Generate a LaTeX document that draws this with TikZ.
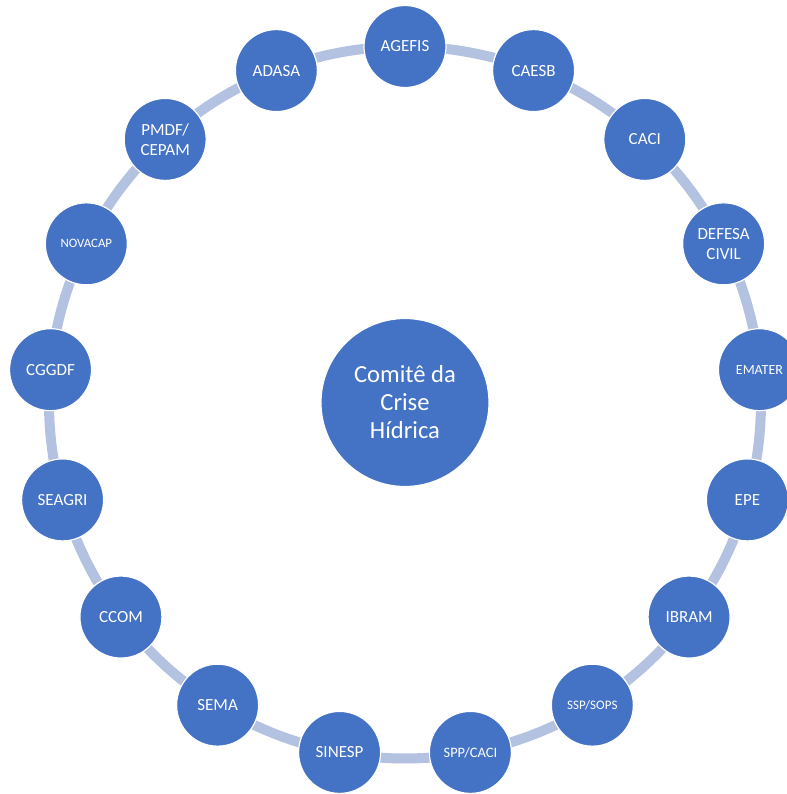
\documentclass[tikz,border=0pt]{standalone}
\usepackage{fontspec}
\setmainfont{Carlito}
\usepackage{xcolor}
\usepackage{tikz}
\usetikzlibrary{backgrounds}
\definecolor{nodeblue}{HTML}{4472C4}
\definecolor{ringblue}{HTML}{B4C2E1}

\begin{document}
\begin{tikzpicture}[
  x=0.5pt, y=0.5pt,
  hub/.style={circle, fill=nodeblue, draw=white, line width=0.6pt, minimum size=84pt, inner sep=0pt,
    text=white, align=center, font=\fontsize{12.3}{14}\selectfont},
  member/.style={circle, fill=nodeblue, draw=white, line width=0.6pt, minimum size=41pt, inner sep=0pt,
    text=white, align=center, font=\fontsize{8.5}{10}\selectfont},
  ring/.style={draw=ringblue, line width=5pt, bend left=10.6, looseness=0.86}
]
  \clip (-405,-391.5) rectangle (382,402.5);

  \node[hub] (comite) at (0,0) {Comitê da\\Crise\\Hídrica};

  \node[member] (agefis)  at (90:356)     {AGEFIS};
  \node[member] (caesb)   at (68.82:356)  {CAESB};
  \node[member] (caci)    at (47.65:356)  {CACI};
  \node[member] (defesa)  at (26.47:356)  {DEFESA\\CIVIL};
  \node[member, font=\fontsize{7}{8}\selectfont] (emater) at (5.29:356) {EMATER};
  \node[member] (epe)     at (-15.88:356) {EPE};
  \node[member] (ibram)   at (-37.06:356) {IBRAM};
  \node[member, font=\fontsize{6.5}{8}\selectfont] (ssp) at (-58.24:356) {SSP/SOPS};
  \node[member, font=\fontsize{7.2}{8}\selectfont] (spp) at (-79.41:356) {SPP/CACI};
  \node[member] (sinesp)  at (-100.59:356) {SINESP};
  \node[member] (sema)    at (-121.76:356) {SEMA};
  \node[member] (ccom)    at (-142.94:356) {CCOM};
  \node[member] (seagri)  at (-164.12:356) {SEAGRI};
  \node[member] (cggdf)   at (174.71:356) {CGGDF};
  \node[member, font=\fontsize{6.4}{8}\selectfont] (novacap) at (153.53:356) {NOVACAP};
  \node[member] (pmdf)    at (132.35:356) {PMDF/\\CEPAM};
  \node[member] (adasa)   at (111.18:356) {ADASA};

  % ring between the members
  \begin{scope}[on background layer]
    \draw[ring] (agefis.center) to (caesb.center);
    \draw[ring] (caesb.center) to (caci.center);
    \draw[ring] (caci.center) to (defesa.center);
    \draw[ring] (defesa.center) to (emater.center);
    \draw[ring] (emater.center) to (epe.center);
    \draw[ring] (epe.center) to (ibram.center);
    \draw[ring] (ibram.center) to (ssp.center);
    \draw[ring] (ssp.center) to (spp.center);
    \draw[ring] (spp.center) to (sinesp.center);
    \draw[ring] (sinesp.center) to (sema.center);
    \draw[ring] (sema.center) to (ccom.center);
    \draw[ring] (ccom.center) to (seagri.center);
    \draw[ring] (seagri.center) to (cggdf.center);
    \draw[ring] (cggdf.center) to (novacap.center);
    \draw[ring] (novacap.center) to (pmdf.center);
    \draw[ring] (pmdf.center) to (adasa.center);
    \draw[ring] (adasa.center) to (agefis.center);
  \end{scope}
\end{tikzpicture}
\end{document}
